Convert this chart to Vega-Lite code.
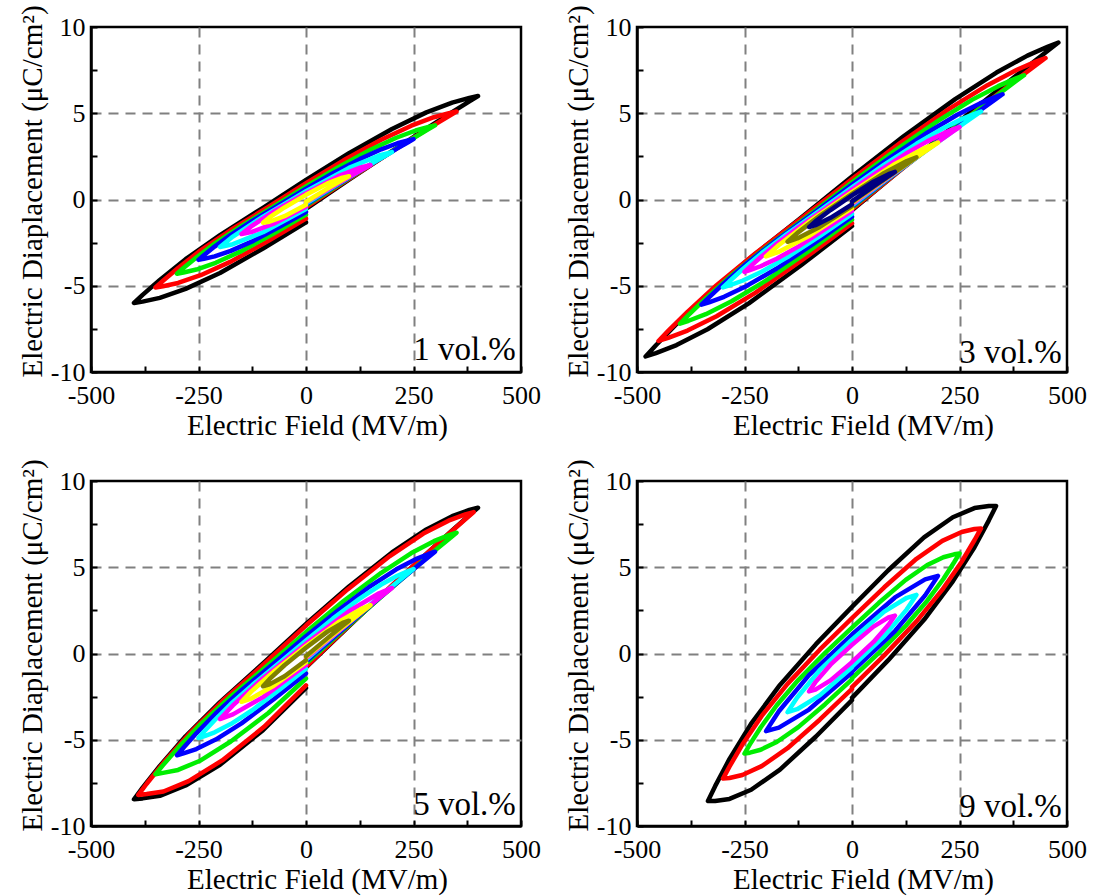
{
"$schema": "https://vega.github.io/schema/vega-lite/v6.json",
"background": "white",
"padding": {"left": 17, "top": 3, "right": 5, "bottom": 5},
"bounds": "flush",
"columns": 2,
"spacing": {"row": 109, "column": 116},
"config": {
  "font": "Liberation Serif",
  "view": {"stroke": "#000000", "strokeWidth": 2.5},
  "axis": {"labelFont": "Liberation Serif", "labelFontSize": 26, "labelColor": "#000000", "titleFont": "Liberation Serif", "titleFontSize": 29, "titleFontWeight": "normal", "titleColor": "#000000", "domainColor": "#000000", "domainWidth": 2.5, "tickColor": "#000000", "tickWidth": 2, "tickSize": -6, "gridColor": "#808080", "gridDash": [10, 7], "gridWidth": 2},
  "axisX": {"titleX": 226, "labelPadding": 16, "titlePadding": 3},
  "axisY": {"titleY": 164, "labelPadding": 12, "titlePadding": 3},
  "line": {"strokeWidth": 4.5, "strokeJoin": "round", "strokeCap": "round"}
},
"datasets": {
"p1": [
{"s":"1k","o":0,"E":0,"D":-0.54},{"s":"1k","o":1,"E":100,"D":1.15},{"s":"1k","o":2,"E":200,"D":2.81},{"s":"1k","o":3,"E":280,"D":4.11},{"s":"1k","o":4,"E":340,"D":5.07},{"s":"1k","o":5,"E":380,"D":5.69},{"s":"1k","o":6,"E":400,"D":6.0},{"s":"1k","o":7,"E":380,"D":5.89},{"s":"1k","o":8,"E":340,"D":5.62},{"s":"1k","o":9,"E":280,"D":5.05},{"s":"1k","o":10,"E":200,"D":4.09},{"s":"1k","o":11,"E":100,"D":2.69},{"s":"1k","o":12,"E":0,"D":1.14},{"s":"1k","o":13,"E":-100,"D":-0.48},{"s":"1k","o":14,"E":-200,"D":-2.06},{"s":"1k","o":15,"E":-280,"D":-3.46},{"s":"1k","o":16,"E":-340,"D":-4.66},{"s":"1k","o":17,"E":-380,"D":-5.53},{"s":"1k","o":18,"E":-400,"D":-6.0},{"s":"1k","o":19,"E":-380,"D":-5.92},{"s":"1k","o":20,"E":-340,"D":-5.7},{"s":"1k","o":21,"E":-280,"D":-5.18},{"s":"1k","o":22,"E":-200,"D":-4.26},{"s":"1k","o":23,"E":-100,"D":-2.84},{"s":"1k","o":24,"E":0,"D":-1.32},
{"s":"2r","o":0,"E":0,"D":-0.45},{"s":"2r","o":1,"E":87.5,"D":0.99},{"s":"2r","o":2,"E":175,"D":2.39},{"s":"2r","o":3,"E":245,"D":3.5},{"s":"2r","o":4,"E":297.5,"D":4.31},{"s":"2r","o":5,"E":332.5,"D":4.84},{"s":"2r","o":6,"E":350,"D":5.1},{"s":"2r","o":7,"E":332.5,"D":5.0},{"s":"2r","o":8,"E":297.5,"D":4.77},{"s":"2r","o":9,"E":245,"D":4.28},{"s":"2r","o":10,"E":175,"D":3.46},{"s":"2r","o":11,"E":87.5,"D":2.27},{"s":"2r","o":12,"E":0,"D":0.95},{"s":"2r","o":13,"E":-87.5,"D":-0.43},{"s":"2r","o":14,"E":-175,"D":-1.77},{"s":"2r","o":15,"E":-245,"D":-2.95},{"s":"2r","o":16,"E":-297.5,"D":-3.97},{"s":"2r","o":17,"E":-332.5,"D":-4.71},{"s":"2r","o":18,"E":-350,"D":-5.1},{"s":"2r","o":19,"E":-332.5,"D":-5.03},{"s":"2r","o":20,"E":-297.5,"D":-4.84},{"s":"2r","o":21,"E":-245,"D":-4.39},{"s":"2r","o":22,"E":-175,"D":-3.6},{"s":"2r","o":23,"E":-87.5,"D":-2.4},{"s":"2r","o":24,"E":0,"D":-1.1},
{"s":"3g","o":0,"E":0,"D":-0.36},{"s":"3g","o":1,"E":75,"D":0.84},{"s":"3g","o":2,"E":150,"D":2.02},{"s":"3g","o":3,"E":210,"D":2.95},{"s":"3g","o":4,"E":255,"D":3.64},{"s":"3g","o":5,"E":285,"D":4.08},{"s":"3g","o":6,"E":300,"D":4.3},{"s":"3g","o":7,"E":285,"D":4.21},{"s":"3g","o":8,"E":255,"D":4.0},{"s":"3g","o":9,"E":210,"D":3.58},{"s":"3g","o":10,"E":150,"D":2.88},{"s":"3g","o":11,"E":75,"D":1.87},{"s":"3g","o":12,"E":0,"D":0.76},{"s":"3g","o":13,"E":-75,"D":-0.4},{"s":"3g","o":14,"E":-150,"D":-1.53},{"s":"3g","o":15,"E":-210,"D":-2.51},{"s":"3g","o":16,"E":-255,"D":-3.36},{"s":"3g","o":17,"E":-285,"D":-3.97},{"s":"3g","o":18,"E":-300,"D":-4.3},{"s":"3g","o":19,"E":-285,"D":-4.23},{"s":"3g","o":20,"E":-255,"D":-4.06},{"s":"3g","o":21,"E":-210,"D":-3.67},{"s":"3g","o":22,"E":-150,"D":-2.99},{"s":"3g","o":23,"E":-75,"D":-1.97},{"s":"3g","o":24,"E":0,"D":-0.88},
{"s":"4b","o":0,"E":0,"D":-0.29},{"s":"4b","o":1,"E":62.5,"D":0.69},{"s":"4b","o":2,"E":125,"D":1.65},{"s":"4b","o":3,"E":175,"D":2.4},{"s":"4b","o":4,"E":212.5,"D":2.96},{"s":"4b","o":5,"E":237.5,"D":3.32},{"s":"4b","o":6,"E":250,"D":3.5},{"s":"4b","o":7,"E":237.5,"D":3.43},{"s":"4b","o":8,"E":212.5,"D":3.26},{"s":"4b","o":9,"E":175,"D":2.91},{"s":"4b","o":10,"E":125,"D":2.34},{"s":"4b","o":11,"E":62.5,"D":1.52},{"s":"4b","o":12,"E":0,"D":0.62},{"s":"4b","o":13,"E":-62.5,"D":-0.32},{"s":"4b","o":14,"E":-125,"D":-1.24},{"s":"4b","o":15,"E":-175,"D":-2.05},{"s":"4b","o":16,"E":-212.5,"D":-2.73},{"s":"4b","o":17,"E":-237.5,"D":-3.23},{"s":"4b","o":18,"E":-250,"D":-3.5},{"s":"4b","o":19,"E":-237.5,"D":-3.44},{"s":"4b","o":20,"E":-212.5,"D":-3.3},{"s":"4b","o":21,"E":-175,"D":-2.98},{"s":"4b","o":22,"E":-125,"D":-2.43},{"s":"4b","o":23,"E":-62.5,"D":-1.6},{"s":"4b","o":24,"E":0,"D":-0.72},
{"s":"5c","o":0,"E":0,"D":-0.23},{"s":"5c","o":1,"E":100,"D":1.3},{"s":"5c","o":2,"E":170,"D":2.33},{"s":"5c","o":3,"E":200,"D":2.75},{"s":"5c","o":4,"E":170,"D":2.55},{"s":"5c","o":5,"E":100,"D":1.83},{"s":"5c","o":6,"E":0,"D":0.48},{"s":"5c","o":7,"E":-100,"D":-0.99},{"s":"5c","o":8,"E":-170,"D":-2.15},{"s":"5c","o":9,"E":-200,"D":-2.75},{"s":"5c","o":10,"E":-170,"D":-2.59},{"s":"5c","o":11,"E":-100,"D":-1.9},{"s":"5c","o":12,"E":0,"D":-0.55},
{"s":"6m","o":0,"E":0,"D":-0.17},{"s":"6m","o":1,"E":75,"D":0.94},{"s":"6m","o":2,"E":127.5,"D":1.69},{"s":"6m","o":3,"E":150,"D":2.0},{"s":"6m","o":4,"E":127.5,"D":1.86},{"s":"6m","o":5,"E":75,"D":1.35},{"s":"6m","o":6,"E":0,"D":0.36},{"s":"6m","o":7,"E":-75,"D":-0.7},{"s":"6m","o":8,"E":-127.5,"D":-1.56},{"s":"6m","o":9,"E":-150,"D":-2.0},{"s":"6m","o":10,"E":-127.5,"D":-1.89},{"s":"6m","o":11,"E":-75,"D":-1.4},{"s":"6m","o":12,"E":0,"D":-0.42},
{"s":"7y","o":0,"E":0,"D":-0.13},{"s":"7y","o":1,"E":50,"D":0.63},{"s":"7y","o":2,"E":85,"D":1.14},{"s":"7y","o":3,"E":100,"D":1.35},{"s":"7y","o":4,"E":85,"D":1.27},{"s":"7y","o":5,"E":50,"D":0.93},{"s":"7y","o":6,"E":0,"D":0.27},{"s":"7y","o":7,"E":-50,"D":-0.46},{"s":"7y","o":8,"E":-85,"D":-1.04},{"s":"7y","o":9,"E":-100,"D":-1.35},{"s":"7y","o":10,"E":-85,"D":-1.29},{"s":"7y","o":11,"E":-50,"D":-0.97},{"s":"7y","o":12,"E":0,"D":-0.31}
],
"p2": [
{"s":"1k","o":0,"E":0,"D":-0.63},{"s":"1k","o":1,"E":120,"D":1.87},{"s":"1k","o":2,"E":240,"D":4.33},{"s":"1k","o":3,"E":336,"D":6.27},{"s":"1k","o":4,"E":408,"D":7.7},{"s":"1k","o":5,"E":456,"D":8.64},{"s":"1k","o":6,"E":480,"D":9.1},{"s":"1k","o":7,"E":456,"D":8.87},{"s":"1k","o":8,"E":408,"D":8.34},{"s":"1k","o":9,"E":336,"D":7.36},{"s":"1k","o":10,"E":240,"D":5.82},{"s":"1k","o":11,"E":120,"D":3.66},{"s":"1k","o":12,"E":0,"D":1.33},{"s":"1k","o":13,"E":-120,"D":-1.09},{"s":"1k","o":14,"E":-240,"D":-3.46},{"s":"1k","o":15,"E":-336,"D":-5.5},{"s":"1k","o":16,"E":-408,"D":-7.22},{"s":"1k","o":17,"E":-456,"D":-8.45},{"s":"1k","o":18,"E":-480,"D":-9.1},{"s":"1k","o":19,"E":-456,"D":-8.9},{"s":"1k","o":20,"E":-408,"D":-8.44},{"s":"1k","o":21,"E":-336,"D":-7.52},{"s":"1k","o":22,"E":-240,"D":-6.02},{"s":"1k","o":23,"E":-120,"D":-3.84},{"s":"1k","o":24,"E":0,"D":-1.54},
{"s":"2r","o":0,"E":0,"D":-0.56},{"s":"2r","o":1,"E":112.5,"D":1.69},{"s":"2r","o":2,"E":225,"D":3.9},{"s":"2r","o":3,"E":315,"D":5.65},{"s":"2r","o":4,"E":382.5,"D":6.94},{"s":"2r","o":5,"E":427.5,"D":7.78},{"s":"2r","o":6,"E":450,"D":8.2},{"s":"2r","o":7,"E":427.5,"D":7.99},{"s":"2r","o":8,"E":382.5,"D":7.51},{"s":"2r","o":9,"E":315,"D":6.63},{"s":"2r","o":10,"E":225,"D":5.24},{"s":"2r","o":11,"E":112.5,"D":3.29},{"s":"2r","o":12,"E":0,"D":1.19},{"s":"2r","o":13,"E":-112.5,"D":-0.99},{"s":"2r","o":14,"E":-225,"D":-3.13},{"s":"2r","o":15,"E":-315,"D":-4.97},{"s":"2r","o":16,"E":-382.5,"D":-6.51},{"s":"2r","o":17,"E":-427.5,"D":-7.62},{"s":"2r","o":18,"E":-450,"D":-8.2},{"s":"2r","o":19,"E":-427.5,"D":-8.02},{"s":"2r","o":20,"E":-382.5,"D":-7.6},{"s":"2r","o":21,"E":-315,"D":-6.77},{"s":"2r","o":22,"E":-225,"D":-5.41},{"s":"2r","o":23,"E":-112.5,"D":-3.45},{"s":"2r","o":24,"E":0,"D":-1.38},
{"s":"3g","o":0,"E":0,"D":-0.47},{"s":"3g","o":1,"E":100,"D":1.5},{"s":"3g","o":2,"E":200,"D":3.43},{"s":"3g","o":3,"E":280,"D":4.96},{"s":"3g","o":4,"E":340,"D":6.09},{"s":"3g","o":5,"E":380,"D":6.84},{"s":"3g","o":6,"E":400,"D":7.2},{"s":"3g","o":7,"E":380,"D":7.01},{"s":"3g","o":8,"E":340,"D":6.57},{"s":"3g","o":9,"E":280,"D":5.79},{"s":"3g","o":10,"E":200,"D":4.56},{"s":"3g","o":11,"E":100,"D":2.84},{"s":"3g","o":12,"E":0,"D":1.0},{"s":"3g","o":13,"E":-100,"D":-0.91},{"s":"3g","o":14,"E":-200,"D":-2.78},{"s":"3g","o":15,"E":-280,"D":-4.39},{"s":"3g","o":16,"E":-340,"D":-5.73},{"s":"3g","o":17,"E":-380,"D":-6.69},{"s":"3g","o":18,"E":-400,"D":-7.2},{"s":"3g","o":19,"E":-380,"D":-7.03},{"s":"3g","o":20,"E":-340,"D":-6.65},{"s":"3g","o":21,"E":-280,"D":-5.9},{"s":"3g","o":22,"E":-200,"D":-4.7},{"s":"3g","o":23,"E":-100,"D":-2.98},{"s":"3g","o":24,"E":0,"D":-1.16},
{"s":"4b","o":0,"E":0,"D":-0.41},{"s":"4b","o":1,"E":87.5,"D":1.26},{"s":"4b","o":2,"E":175,"D":2.91},{"s":"4b","o":3,"E":245,"D":4.2},{"s":"4b","o":4,"E":297.5,"D":5.16},{"s":"4b","o":5,"E":332.5,"D":5.79},{"s":"4b","o":6,"E":350,"D":6.1},{"s":"4b","o":7,"E":332.5,"D":5.94},{"s":"4b","o":8,"E":297.5,"D":5.57},{"s":"4b","o":9,"E":245,"D":4.91},{"s":"4b","o":10,"E":175,"D":3.87},{"s":"4b","o":11,"E":87.5,"D":2.42},{"s":"4b","o":12,"E":0,"D":0.86},{"s":"4b","o":13,"E":-87.5,"D":-0.76},{"s":"4b","o":14,"E":-175,"D":-2.35},{"s":"4b","o":15,"E":-245,"D":-3.71},{"s":"4b","o":16,"E":-297.5,"D":-4.85},{"s":"4b","o":17,"E":-332.5,"D":-5.67},{"s":"4b","o":18,"E":-350,"D":-6.1},{"s":"4b","o":19,"E":-332.5,"D":-5.96},{"s":"4b","o":20,"E":-297.5,"D":-5.64},{"s":"4b","o":21,"E":-245,"D":-5.01},{"s":"4b","o":22,"E":-175,"D":-4.0},{"s":"4b","o":23,"E":-87.5,"D":-2.53},{"s":"4b","o":24,"E":0,"D":-0.99},
{"s":"5c","o":0,"E":0,"D":-0.34},{"s":"5c","o":1,"E":75,"D":1.06},{"s":"5c","o":2,"E":150,"D":2.43},{"s":"5c","o":3,"E":210,"D":3.51},{"s":"5c","o":4,"E":255,"D":4.32},{"s":"5c","o":5,"E":285,"D":4.84},{"s":"5c","o":6,"E":300,"D":5.1},{"s":"5c","o":7,"E":285,"D":4.97},{"s":"5c","o":8,"E":255,"D":4.66},{"s":"5c","o":9,"E":210,"D":4.1},{"s":"5c","o":10,"E":150,"D":3.23},{"s":"5c","o":11,"E":75,"D":2.02},{"s":"5c","o":12,"E":0,"D":0.71},{"s":"5c","o":13,"E":-75,"D":-0.64},{"s":"5c","o":14,"E":-150,"D":-1.97},{"s":"5c","o":15,"E":-210,"D":-3.11},{"s":"5c","o":16,"E":-255,"D":-4.06},{"s":"5c","o":17,"E":-285,"D":-4.74},{"s":"5c","o":18,"E":-300,"D":-5.1},{"s":"5c","o":19,"E":-285,"D":-4.98},{"s":"5c","o":20,"E":-255,"D":-4.71},{"s":"5c","o":21,"E":-210,"D":-4.19},{"s":"5c","o":22,"E":-150,"D":-3.34},{"s":"5c","o":23,"E":-75,"D":-2.12},{"s":"5c","o":24,"E":0,"D":-0.83},
{"s":"6m","o":0,"E":0,"D":-0.27},{"s":"6m","o":1,"E":62.5,"D":0.88},{"s":"6m","o":2,"E":125,"D":2.0},{"s":"6m","o":3,"E":175,"D":2.9},{"s":"6m","o":4,"E":212.5,"D":3.56},{"s":"6m","o":5,"E":237.5,"D":3.99},{"s":"6m","o":6,"E":250,"D":4.2},{"s":"6m","o":7,"E":237.5,"D":4.09},{"s":"6m","o":8,"E":212.5,"D":3.83},{"s":"6m","o":9,"E":175,"D":3.37},{"s":"6m","o":10,"E":125,"D":2.65},{"s":"6m","o":11,"E":62.5,"D":1.64},{"s":"6m","o":12,"E":0,"D":0.57},{"s":"6m","o":13,"E":-62.5,"D":-0.54},{"s":"6m","o":14,"E":-125,"D":-1.63},{"s":"6m","o":15,"E":-175,"D":-2.57},{"s":"6m","o":16,"E":-212.5,"D":-3.35},{"s":"6m","o":17,"E":-237.5,"D":-3.91},{"s":"6m","o":18,"E":-250,"D":-4.2},{"s":"6m","o":19,"E":-237.5,"D":-4.1},{"s":"6m","o":20,"E":-212.5,"D":-3.87},{"s":"6m","o":21,"E":-175,"D":-3.43},{"s":"6m","o":22,"E":-125,"D":-2.73},{"s":"6m","o":23,"E":-62.5,"D":-1.72},{"s":"6m","o":24,"E":0,"D":-0.66},
{"s":"7y","o":0,"E":0,"D":-0.2},{"s":"7y","o":1,"E":100,"D":1.58},{"s":"7y","o":2,"E":170,"D":2.79},{"s":"7y","o":3,"E":200,"D":3.3},{"s":"7y","o":4,"E":170,"D":3.0},{"s":"7y","o":5,"E":100,"D":2.06},{"s":"7y","o":6,"E":0,"D":0.43},{"s":"7y","o":7,"E":-100,"D":-1.3},{"s":"7y","o":8,"E":-170,"D":-2.64},{"s":"7y","o":9,"E":-200,"D":-3.3},{"s":"7y","o":10,"E":-170,"D":-3.03},{"s":"7y","o":11,"E":-100,"D":-2.12},{"s":"7y","o":12,"E":0,"D":-0.5},
{"s":"8o","o":0,"E":0,"D":-0.16},{"s":"8o","o":1,"E":75,"D":1.17},{"s":"8o","o":2,"E":127.5,"D":2.07},{"s":"8o","o":3,"E":150,"D":2.45},{"s":"8o","o":4,"E":127.5,"D":2.23},{"s":"8o","o":5,"E":75,"D":1.54},{"s":"8o","o":6,"E":0,"D":0.33},{"s":"8o","o":7,"E":-75,"D":-0.95},{"s":"8o","o":8,"E":-127.5,"D":-1.95},{"s":"8o","o":9,"E":-150,"D":-2.45},{"s":"8o","o":10,"E":-127.5,"D":-2.26},{"s":"8o","o":11,"E":-75,"D":-1.59},{"s":"8o","o":12,"E":0,"D":-0.39},
{"s":"9n","o":0,"E":0,"D":-0.11},{"s":"9n","o":1,"E":50,"D":0.76},{"s":"9n","o":2,"E":85,"D":1.35},{"s":"9n","o":3,"E":100,"D":1.6},{"s":"9n","o":4,"E":85,"D":1.47},{"s":"9n","o":5,"E":50,"D":1.03},{"s":"9n","o":6,"E":0,"D":0.24},{"s":"9n","o":7,"E":-50,"D":-0.61},{"s":"9n","o":8,"E":-85,"D":-1.27},{"s":"9n","o":9,"E":-100,"D":-1.6},{"s":"9n","o":10,"E":-85,"D":-1.49},{"s":"9n","o":11,"E":-50,"D":-1.06},{"s":"9n","o":12,"E":0,"D":-0.28}
],
"p3": [
{"s":"1k","o":0,"E":0,"D":-0.81},{"s":"1k","o":1,"E":100,"D":1.59},{"s":"1k","o":2,"E":200,"D":3.94},{"s":"1k","o":3,"E":280,"D":5.78},{"s":"1k","o":4,"E":340,"D":7.14},{"s":"1k","o":5,"E":380,"D":8.02},{"s":"1k","o":6,"E":400,"D":8.45},{"s":"1k","o":7,"E":380,"D":8.32},{"s":"1k","o":8,"E":340,"D":7.96},{"s":"1k","o":9,"E":280,"D":7.19},{"s":"1k","o":10,"E":200,"D":5.86},{"s":"1k","o":11,"E":100,"D":3.89},{"s":"1k","o":12,"E":0,"D":1.71},{"s":"1k","o":13,"E":-100,"D":-0.58},{"s":"1k","o":14,"E":-200,"D":-2.82},{"s":"1k","o":15,"E":-280,"D":-4.8},{"s":"1k","o":16,"E":-340,"D":-6.52},{"s":"1k","o":17,"E":-380,"D":-7.78},{"s":"1k","o":18,"E":-400,"D":-8.45},{"s":"1k","o":19,"E":-380,"D":-8.4},{"s":"1k","o":20,"E":-340,"D":-8.25},{"s":"1k","o":21,"E":-280,"D":-7.65},{"s":"1k","o":22,"E":-200,"D":-6.45},{"s":"1k","o":23,"E":-100,"D":-4.45},{"s":"1k","o":24,"E":0,"D":-2.0},
{"s":"2r","o":0,"E":0,"D":-0.77},{"s":"2r","o":1,"E":97.5,"D":1.56},{"s":"2r","o":2,"E":195,"D":3.83},{"s":"2r","o":3,"E":273,"D":5.61},{"s":"2r","o":4,"E":331.5,"D":6.93},{"s":"2r","o":5,"E":370.5,"D":7.78},{"s":"2r","o":6,"E":390,"D":8.2},{"s":"2r","o":7,"E":370.5,"D":8.06},{"s":"2r","o":8,"E":331.5,"D":7.7},{"s":"2r","o":9,"E":273,"D":6.95},{"s":"2r","o":10,"E":195,"D":5.65},{"s":"2r","o":11,"E":97.5,"D":3.73},{"s":"2r","o":12,"E":0,"D":1.62},{"s":"2r","o":13,"E":-97.5,"D":-0.61},{"s":"2r","o":14,"E":-195,"D":-2.77},{"s":"2r","o":15,"E":-273,"D":-4.69},{"s":"2r","o":16,"E":-331.5,"D":-6.34},{"s":"2r","o":17,"E":-370.5,"D":-7.55},{"s":"2r","o":18,"E":-390,"D":-8.2},{"s":"2r","o":19,"E":-370.5,"D":-8.15},{"s":"2r","o":20,"E":-331.5,"D":-8.0},{"s":"2r","o":21,"E":-273,"D":-7.4},{"s":"2r","o":22,"E":-195,"D":-6.2},{"s":"2r","o":23,"E":-97.5,"D":-4.25},{"s":"2r","o":24,"E":0,"D":-1.85},
{"s":"3g","o":0,"E":0,"D":-0.59},{"s":"3g","o":1,"E":87.5,"D":1.37},{"s":"3g","o":2,"E":175,"D":3.29},{"s":"3g","o":3,"E":245,"D":4.8},{"s":"3g","o":4,"E":297.5,"D":5.92},{"s":"3g","o":5,"E":332.5,"D":6.64},{"s":"3g","o":6,"E":350,"D":7.0},{"s":"3g","o":7,"E":332.5,"D":6.86},{"s":"3g","o":8,"E":297.5,"D":6.51},{"s":"3g","o":9,"E":245,"D":5.82},{"s":"3g","o":10,"E":175,"D":4.68},{"s":"3g","o":11,"E":87.5,"D":3.04},{"s":"3g","o":12,"E":0,"D":1.24},{"s":"3g","o":13,"E":-87.5,"D":-0.65},{"s":"3g","o":14,"E":-175,"D":-2.49},{"s":"3g","o":15,"E":-245,"D":-4.09},{"s":"3g","o":16,"E":-297.5,"D":-5.47},{"s":"3g","o":17,"E":-332.5,"D":-6.47},{"s":"3g","o":18,"E":-350,"D":-7.0},{"s":"3g","o":19,"E":-332.5,"D":-6.92},{"s":"3g","o":20,"E":-297.5,"D":-6.75},{"s":"3g","o":21,"E":-245,"D":-6.2},{"s":"3g","o":22,"E":-175,"D":-5.1},{"s":"3g","o":23,"E":-87.5,"D":-3.45},{"s":"3g","o":24,"E":0,"D":-1.45},
{"s":"4b","o":0,"E":0,"D":-0.47},{"s":"4b","o":1,"E":75,"D":1.17},{"s":"4b","o":2,"E":150,"D":2.78},{"s":"4b","o":3,"E":210,"D":4.05},{"s":"4b","o":4,"E":255,"D":4.99},{"s":"4b","o":5,"E":285,"D":5.6},{"s":"4b","o":6,"E":300,"D":5.9},{"s":"4b","o":7,"E":285,"D":5.77},{"s":"4b","o":8,"E":255,"D":5.47},{"s":"4b","o":9,"E":210,"D":4.88},{"s":"4b","o":10,"E":150,"D":3.91},{"s":"4b","o":11,"E":75,"D":2.51},{"s":"4b","o":12,"E":0,"D":1.0},{"s":"4b","o":13,"E":-75,"D":-0.58},{"s":"4b","o":14,"E":-150,"D":-2.13},{"s":"4b","o":15,"E":-210,"D":-3.48},{"s":"4b","o":16,"E":-255,"D":-4.63},{"s":"4b","o":17,"E":-285,"D":-5.46},{"s":"4b","o":18,"E":-300,"D":-5.9},{"s":"4b","o":19,"E":-285,"D":-5.79},{"s":"4b","o":20,"E":-255,"D":-5.54},{"s":"4b","o":21,"E":-210,"D":-4.99},{"s":"4b","o":22,"E":-150,"D":-4.05},{"s":"4b","o":23,"E":-75,"D":-2.65},{"s":"4b","o":24,"E":0,"D":-1.16},
{"s":"5c","o":0,"E":0,"D":-0.36},{"s":"5c","o":1,"E":62.5,"D":0.99},{"s":"5c","o":2,"E":125,"D":2.32},{"s":"5c","o":3,"E":175,"D":3.37},{"s":"5c","o":4,"E":212.5,"D":4.15},{"s":"5c","o":5,"E":237.5,"D":4.65},{"s":"5c","o":6,"E":250,"D":4.9},{"s":"5c","o":7,"E":237.5,"D":4.78},{"s":"5c","o":8,"E":212.5,"D":4.51},{"s":"5c","o":9,"E":175,"D":4.0},{"s":"5c","o":10,"E":125,"D":3.18},{"s":"5c","o":11,"E":62.5,"D":2.02},{"s":"5c","o":12,"E":0,"D":0.76},{"s":"5c","o":13,"E":-62.5,"D":-0.55},{"s":"5c","o":14,"E":-125,"D":-1.83},{"s":"5c","o":15,"E":-175,"D":-2.93},{"s":"5c","o":16,"E":-212.5,"D":-3.87},{"s":"5c","o":17,"E":-237.5,"D":-4.54},{"s":"5c","o":18,"E":-250,"D":-4.9},{"s":"5c","o":19,"E":-237.5,"D":-4.8},{"s":"5c","o":20,"E":-212.5,"D":-4.57},{"s":"5c","o":21,"E":-175,"D":-4.09},{"s":"5c","o":22,"E":-125,"D":-3.29},{"s":"5c","o":23,"E":-62.5,"D":-2.12},{"s":"5c","o":24,"E":0,"D":-0.88},
{"s":"6m","o":0,"E":0,"D":-0.27},{"s":"6m","o":1,"E":100,"D":1.8},{"s":"6m","o":2,"E":170,"D":3.22},{"s":"6m","o":3,"E":200,"D":3.8},{"s":"6m","o":4,"E":170,"D":3.49},{"s":"6m","o":5,"E":100,"D":2.45},{"s":"6m","o":6,"E":0,"D":0.57},{"s":"6m","o":7,"E":-100,"D":-1.43},{"s":"6m","o":8,"E":-170,"D":-3.01},{"s":"6m","o":9,"E":-200,"D":-3.8},{"s":"6m","o":10,"E":-170,"D":-3.53},{"s":"6m","o":11,"E":-100,"D":-2.53},{"s":"6m","o":12,"E":0,"D":-0.66},
{"s":"7y","o":0,"E":0,"D":-0.2},{"s":"7y","o":1,"E":75,"D":1.33},{"s":"7y","o":2,"E":127.5,"D":2.37},{"s":"7y","o":3,"E":150,"D":2.8},{"s":"7y","o":4,"E":127.5,"D":2.57},{"s":"7y","o":5,"E":75,"D":1.81},{"s":"7y","o":6,"E":0,"D":0.43},{"s":"7y","o":7,"E":-75,"D":-1.05},{"s":"7y","o":8,"E":-127.5,"D":-2.21},{"s":"7y","o":9,"E":-150,"D":-2.8},{"s":"7y","o":10,"E":-127.5,"D":-2.61},{"s":"7y","o":11,"E":-75,"D":-1.87},{"s":"7y","o":12,"E":0,"D":-0.5},
{"s":"8o","o":0,"E":0,"D":-0.16},{"s":"8o","o":1,"E":50,"D":0.89},{"s":"8o","o":2,"E":85,"D":1.61},{"s":"8o","o":3,"E":100,"D":1.9},{"s":"8o","o":4,"E":85,"D":1.77},{"s":"8o","o":5,"E":50,"D":1.27},{"s":"8o","o":6,"E":0,"D":0.33},{"s":"8o","o":7,"E":-50,"D":-0.68},{"s":"8o","o":8,"E":-85,"D":-1.49},{"s":"8o","o":9,"E":-100,"D":-1.9},{"s":"8o","o":10,"E":-85,"D":-1.79},{"s":"8o","o":11,"E":-50,"D":-1.32},{"s":"8o","o":12,"E":0,"D":-0.39}
],
"p4": [
{"s":"1k","o":0,"E":0,"D":-2.57},{"s":"1k","o":1,"E":83.8,"D":-0.4},{"s":"1k","o":2,"E":167.5,"D":1.95},{"s":"1k","o":3,"E":234.5,"D":4.18},{"s":"1k","o":4,"E":284.8,"D":6.16},{"s":"1k","o":5,"E":318.3,"D":7.72},{"s":"1k","o":6,"E":335,"D":8.55},{"s":"1k","o":7,"E":318.3,"D":8.55},{"s":"1k","o":8,"E":284.8,"D":8.43},{"s":"1k","o":9,"E":234.5,"D":7.9},{"s":"1k","o":10,"E":167.5,"D":6.73},{"s":"1k","o":11,"E":83.8,"D":4.81},{"s":"1k","o":12,"E":0,"D":2.7},{"s":"1k","o":13,"E":-83.8,"D":0.54},{"s":"1k","o":14,"E":-167.5,"D":-1.82},{"s":"1k","o":15,"E":-234.5,"D":-4.07},{"s":"1k","o":16,"E":-284.8,"D":-6.11},{"s":"1k","o":17,"E":-318.3,"D":-7.69},{"s":"1k","o":18,"E":-335,"D":-8.55},{"s":"1k","o":19,"E":-318.3,"D":-8.55},{"s":"1k","o":20,"E":-284.8,"D":-8.43},{"s":"1k","o":21,"E":-234.5,"D":-7.9},{"s":"1k","o":22,"E":-167.5,"D":-6.73},{"s":"1k","o":23,"E":-83.8,"D":-4.81},{"s":"1k","o":24,"E":0,"D":-2.7},
{"s":"2r","o":0,"E":0,"D":-1.95},{"s":"2r","o":1,"E":75,"D":-0.11},{"s":"2r","o":2,"E":150,"D":1.86},{"s":"2r","o":3,"E":210,"D":3.7},{"s":"2r","o":4,"E":255,"D":5.32},{"s":"2r","o":5,"E":285,"D":6.58},{"s":"2r","o":6,"E":300,"D":7.25},{"s":"2r","o":7,"E":285,"D":7.22},{"s":"2r","o":8,"E":255,"D":7.04},{"s":"2r","o":9,"E":210,"D":6.53},{"s":"2r","o":10,"E":150,"D":5.49},{"s":"2r","o":11,"E":75,"D":3.84},{"s":"2r","o":12,"E":0,"D":2.05},{"s":"2r","o":13,"E":-75,"D":0.22},{"s":"2r","o":14,"E":-150,"D":-1.76},{"s":"2r","o":15,"E":-210,"D":-3.62},{"s":"2r","o":16,"E":-255,"D":-5.28},{"s":"2r","o":17,"E":-285,"D":-6.56},{"s":"2r","o":18,"E":-300,"D":-7.25},{"s":"2r","o":19,"E":-285,"D":-7.22},{"s":"2r","o":20,"E":-255,"D":-7.04},{"s":"2r","o":21,"E":-210,"D":-6.53},{"s":"2r","o":22,"E":-150,"D":-5.49},{"s":"2r","o":23,"E":-75,"D":-3.84},{"s":"2r","o":24,"E":0,"D":-2.05},
{"s":"3g","o":0,"E":0,"D":-1.43},{"s":"3g","o":1,"E":62.5,"D":0.04},{"s":"3g","o":2,"E":125,"D":1.61},{"s":"3g","o":3,"E":175,"D":3.06},{"s":"3g","o":4,"E":212.5,"D":4.32},{"s":"3g","o":5,"E":237.5,"D":5.29},{"s":"3g","o":6,"E":250,"D":5.8},{"s":"3g","o":7,"E":237.5,"D":5.75},{"s":"3g","o":8,"E":212.5,"D":5.58},{"s":"3g","o":9,"E":175,"D":5.13},{"s":"3g","o":10,"E":125,"D":4.27},{"s":"3g","o":11,"E":62.5,"D":2.94},{"s":"3g","o":12,"E":0,"D":1.5},{"s":"3g","o":13,"E":-62.5,"D":0.04},{"s":"3g","o":14,"E":-125,"D":-1.54},{"s":"3g","o":15,"E":-175,"D":-3.0},{"s":"3g","o":16,"E":-212.5,"D":-4.29},{"s":"3g","o":17,"E":-237.5,"D":-5.27},{"s":"3g","o":18,"E":-250,"D":-5.8},{"s":"3g","o":19,"E":-237.5,"D":-5.75},{"s":"3g","o":20,"E":-212.5,"D":-5.58},{"s":"3g","o":21,"E":-175,"D":-5.13},{"s":"3g","o":22,"E":-125,"D":-4.27},{"s":"3g","o":23,"E":-62.5,"D":-2.94},{"s":"3g","o":24,"E":0,"D":-1.5},
{"s":"4b","o":0,"E":0,"D":-1.05},{"s":"4b","o":1,"E":100,"D":1.3},{"s":"4b","o":2,"E":170,"D":3.37},{"s":"4b","o":3,"E":200,"D":4.5},{"s":"4b","o":4,"E":170,"D":4.3},{"s":"4b","o":5,"E":100,"D":3.25},{"s":"4b","o":6,"E":0,"D":1.1},{"s":"4b","o":7,"E":-100,"D":-1.25},{"s":"4b","o":8,"E":-170,"D":-3.35},{"s":"4b","o":9,"E":-200,"D":-4.5},{"s":"4b","o":10,"E":-170,"D":-4.3},{"s":"4b","o":11,"E":-100,"D":-3.25},{"s":"4b","o":12,"E":0,"D":-1.1},
{"s":"5c","o":0,"E":0,"D":-0.76},{"s":"5c","o":1,"E":75,"D":1.01},{"s":"5c","o":2,"E":127.5,"D":2.56},{"s":"5c","o":3,"E":150,"D":3.4},{"s":"5c","o":4,"E":127.5,"D":3.23},{"s":"5c","o":5,"E":75,"D":2.43},{"s":"5c","o":6,"E":0,"D":0.8},{"s":"5c","o":7,"E":-75,"D":-0.97},{"s":"5c","o":8,"E":-127.5,"D":-2.55},{"s":"5c","o":9,"E":-150,"D":-3.4},{"s":"5c","o":10,"E":-127.5,"D":-3.23},{"s":"5c","o":11,"E":-75,"D":-2.43},{"s":"5c","o":12,"E":0,"D":-0.8},
{"s":"6m","o":0,"E":0,"D":-0.48},{"s":"6m","o":1,"E":50,"D":0.67},{"s":"6m","o":2,"E":85,"D":1.67},{"s":"6m","o":3,"E":100,"D":2.2},{"s":"6m","o":4,"E":85,"D":2.09},{"s":"6m","o":5,"E":50,"D":1.56},{"s":"6m","o":6,"E":0,"D":0.5},{"s":"6m","o":7,"E":-50,"D":-0.65},{"s":"6m","o":8,"E":-85,"D":-1.66},{"s":"6m","o":9,"E":-100,"D":-2.2},{"s":"6m","o":10,"E":-85,"D":-2.09},{"s":"6m","o":11,"E":-50,"D":-1.56},{"s":"6m","o":12,"E":0,"D":-0.5}
]
},
"concat": [
{
 "width": 430, "height": 345,
 "layer": [
  {"data": {"name": "p1"}, "mark": {"type": "line"},
   "encoding": {
    "x": {"field": "E", "type": "quantitative", "scale": {"domain": [-500, 500], "nice": false}, "axis": {"title": "Electric Field (MV/m)", "values": [-500, -375, -250, -125, 0, 125, 250, 375, 500], "labelExpr": "datum.value % 250 == 0 ? '' + datum.value : ''", "labelFont": "Liberation Serif", "labelFlush": false, "labelOverlap": false, "gridOpacity": {"condition": {"test": "datum.value % 250 == 0 && abs(datum.value) < 500", "value": 1}, "value": 0}}},
    "y": {"field": "D", "type": "quantitative", "scale": {"domain": [-10, 10], "nice": false}, "axis": {"title": "Electric Diaplacement (μC/cm²)", "values": [-10, -7.5, -5, -2.5, 0, 2.5, 5, 7.5, 10], "labelExpr": "datum.value % 5 == 0 ? '' + datum.value : ''", "labelFont": "Liberation Serif", "labelFlush": false, "labelOverlap": false, "gridOpacity": {"condition": {"test": "datum.value % 5 == 0 && abs(datum.value) < 10", "value": 1}, "value": 0}}},
    "color": {"field": "s", "type": "nominal", "scale": {"domain": ["1k","2r","3g","4b","5c","6m","7y","8o","9n"], "range": ["#000000","#ff0000","#00ee00","#0000ff","#00ffff","#ff00ff","#ffff00","#808000","#000080"]}, "legend": null},
    "order": {"field": "o", "type": "quantitative"}
   }},
  {"data": {"values": [{"E": 488, "D": -9.3, "t": "1 vol.%"}]}, "mark": {"type": "text", "align": "right", "baseline": "alphabetic", "fontSize": 33, "font": "Liberation Serif", "color": "#000000"},
   "encoding": {"x": {"field": "E", "type": "quantitative"}, "y": {"field": "D", "type": "quantitative"}, "text": {"field": "t"}}}
 ]
},
{
 "width": 430, "height": 345,
 "layer": [
  {"data": {"name": "p2"}, "mark": {"type": "line"},
   "encoding": {
    "x": {"field": "E", "type": "quantitative", "scale": {"domain": [-500, 500], "nice": false}, "axis": {"title": "Electric Field (MV/m)", "values": [-500, -375, -250, -125, 0, 125, 250, 375, 500], "labelExpr": "datum.value % 250 == 0 ? '' + datum.value : ''", "labelFont": "Liberation Serif", "labelFlush": false, "labelOverlap": false, "gridOpacity": {"condition": {"test": "datum.value % 250 == 0 && abs(datum.value) < 500", "value": 1}, "value": 0}}},
    "y": {"field": "D", "type": "quantitative", "scale": {"domain": [-10, 10], "nice": false}, "axis": {"title": "Electric Diaplacement (μC/cm²)", "values": [-10, -7.5, -5, -2.5, 0, 2.5, 5, 7.5, 10], "labelExpr": "datum.value % 5 == 0 ? '' + datum.value : ''", "labelFont": "Liberation Serif", "labelFlush": false, "labelOverlap": false, "gridOpacity": {"condition": {"test": "datum.value % 5 == 0 && abs(datum.value) < 10", "value": 1}, "value": 0}}},
    "color": {"field": "s", "type": "nominal", "scale": {"domain": ["1k","2r","3g","4b","5c","6m","7y","8o","9n"], "range": ["#000000","#ff0000","#00ee00","#0000ff","#00ffff","#ff00ff","#ffff00","#808000","#000080"]}, "legend": null},
    "order": {"field": "o", "type": "quantitative"}
   }},
  {"data": {"values": [{"E": 488, "D": -9.5, "t": "3 vol.%"}]}, "mark": {"type": "text", "align": "right", "baseline": "alphabetic", "fontSize": 33, "font": "Liberation Serif", "color": "#000000"},
   "encoding": {"x": {"field": "E", "type": "quantitative"}, "y": {"field": "D", "type": "quantitative"}, "text": {"field": "t"}}}
 ]
},
{
 "width": 430, "height": 345,
 "layer": [
  {"data": {"name": "p3"}, "mark": {"type": "line"},
   "encoding": {
    "x": {"field": "E", "type": "quantitative", "scale": {"domain": [-500, 500], "nice": false}, "axis": {"title": "Electric Field (MV/m)", "values": [-500, -375, -250, -125, 0, 125, 250, 375, 500], "labelExpr": "datum.value % 250 == 0 ? '' + datum.value : ''", "labelFont": "Liberation Serif", "labelFlush": false, "labelOverlap": false, "gridOpacity": {"condition": {"test": "datum.value % 250 == 0 && abs(datum.value) < 500", "value": 1}, "value": 0}}},
    "y": {"field": "D", "type": "quantitative", "scale": {"domain": [-10, 10], "nice": false}, "axis": {"title": "Electric Diaplacement (μC/cm²)", "values": [-10, -7.5, -5, -2.5, 0, 2.5, 5, 7.5, 10], "labelExpr": "datum.value % 5 == 0 ? '' + datum.value : ''", "labelFont": "Liberation Serif", "labelFlush": false, "labelOverlap": false, "gridOpacity": {"condition": {"test": "datum.value % 5 == 0 && abs(datum.value) < 10", "value": 1}, "value": 0}}},
    "color": {"field": "s", "type": "nominal", "scale": {"domain": ["1k","2r","3g","4b","5c","6m","7y","8o","9n"], "range": ["#000000","#ff0000","#00ee00","#0000ff","#00ffff","#ff00ff","#ffff00","#808000","#000080"]}, "legend": null},
    "order": {"field": "o", "type": "quantitative"}
   }},
  {"data": {"values": [{"E": 488, "D": -9.35, "t": "5 vol.%"}]}, "mark": {"type": "text", "align": "right", "baseline": "alphabetic", "fontSize": 33, "font": "Liberation Serif", "color": "#000000"},
   "encoding": {"x": {"field": "E", "type": "quantitative"}, "y": {"field": "D", "type": "quantitative"}, "text": {"field": "t"}}}
 ]
},
{
 "width": 430, "height": 345,
 "layer": [
  {"data": {"name": "p4"}, "mark": {"type": "line"},
   "encoding": {
    "x": {"field": "E", "type": "quantitative", "scale": {"domain": [-500, 500], "nice": false}, "axis": {"title": "Electric Field (MV/m)", "values": [-500, -375, -250, -125, 0, 125, 250, 375, 500], "labelExpr": "datum.value % 250 == 0 ? '' + datum.value : ''", "labelFont": "Liberation Serif", "labelFlush": false, "labelOverlap": false, "gridOpacity": {"condition": {"test": "datum.value % 250 == 0 && abs(datum.value) < 500", "value": 1}, "value": 0}}},
    "y": {"field": "D", "type": "quantitative", "scale": {"domain": [-10, 10], "nice": false}, "axis": {"title": "Electric Diaplacement (μC/cm²)", "values": [-10, -7.5, -5, -2.5, 0, 2.5, 5, 7.5, 10], "labelExpr": "datum.value % 5 == 0 ? '' + datum.value : ''", "labelFont": "Liberation Serif", "labelFlush": false, "labelOverlap": false, "gridOpacity": {"condition": {"test": "datum.value % 5 == 0 && abs(datum.value) < 10", "value": 1}, "value": 0}}},
    "color": {"field": "s", "type": "nominal", "scale": {"domain": ["1k","2r","3g","4b","5c","6m","7y","8o","9n"], "range": ["#000000","#ff0000","#00ee00","#0000ff","#00ffff","#ff00ff","#ffff00","#808000","#000080"]}, "legend": null},
    "order": {"field": "o", "type": "quantitative"}
   }},
  {"data": {"values": [{"E": 488, "D": -9.5, "t": "9 vol.%"}]}, "mark": {"type": "text", "align": "right", "baseline": "alphabetic", "fontSize": 33, "font": "Liberation Serif", "color": "#000000"},
   "encoding": {"x": {"field": "E", "type": "quantitative"}, "y": {"field": "D", "type": "quantitative"}, "text": {"field": "t"}}}
 ]
}
]
}
